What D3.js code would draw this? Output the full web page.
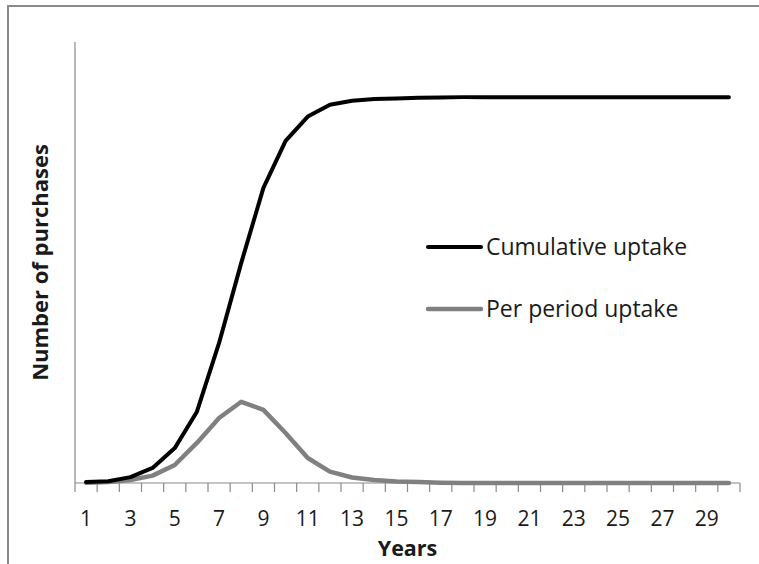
<!DOCTYPE html>
<html>
<head>
<meta charset="utf-8">
<script src="https://cdn.jsdelivr.net/npm/d3@7"></script>
<style>
  html, body { margin: 0; padding: 0; background: #fff; }
  svg { display: block; }
  text { font-family: "Open Sans", "Noto Sans", sans-serif; fill: #1a1a1a; }
</style>
</head>
<body>
<svg id="chart" width="759" height="564"></svg>
<script>
// ---- Data ----
const years = d3.range(1, 31);
const cumulativeUptake = [3, 5, 16, 41, 95, 194, 381, 599, 803, 931, 997, 1029, 1040, 1045, 1046, 1048, 1049, 1050, 1050, 1050, 1050, 1050, 1050, 1050, 1050, 1050, 1050, 1050, 1050, 1050];
const perPeriodUptake = [1, 3, 8, 20, 49, 109, 177, 221, 199, 136, 68, 31, 15, 8, 4, 3, 1, 0, 0, 0, 0, 0, 0, 0, 0, 0, 0, 0, 0, 0];
const tickYears = [1, 3, 5, 7, 9, 11, 13, 15, 17, 19, 21, 23, 25, 27, 29];
const seriesNames = ["Cumulative uptake", "Per period uptake"];
const seriesColors = ["#000000", "#808080"];
const yTitle = "Number of purchases";
const xTitle = "Years";

// ---- Layout ----
const svg = d3.select("#chart");
const plot = { left: 75, right: 740, top: 42, bottom: 483 };

// chart-area border (only top & left visible in the crop)
svg.append("rect")
  .attr("x", 8).attr("y", 6)
  .attr("width", 800).attr("height", 620)
  .attr("fill", "none")
  .attr("stroke", "#8a8a8a")
  .attr("stroke-width", 2);

const x = d3.scaleBand()
  .domain(years)
  .range([plot.left, plot.right])
  .paddingInner(0).paddingOuter(0);

const y = d3.scaleLinear()
  .domain([0, 1200])
  .range([plot.bottom, plot.top]);

const cx = d => x(d) + x.bandwidth() / 2;

// y axis line
svg.append("line")
  .attr("x1", plot.left).attr("x2", plot.left)
  .attr("y1", plot.top).attr("y2", plot.bottom)
  .attr("stroke", "#8a8a8a").attr("stroke-width", 1.2);

// x axis line
svg.append("line")
  .attr("x1", plot.left).attr("x2", plot.right)
  .attr("y1", plot.bottom).attr("y2", plot.bottom)
  .attr("stroke", "#8a8a8a").attr("stroke-width", 1.2);

// tick marks between categories
const boundaries = years.map(d => x(d)).concat([plot.right]);
svg.append("g").selectAll("line")
  .data(boundaries)
  .join("line")
  .attr("x1", d => d).attr("x2", d => d)
  .attr("y1", plot.bottom).attr("y2", plot.bottom + 9)
  .attr("stroke", "#8a8a8a").attr("stroke-width", 1.2);

// tick labels
svg.append("g").selectAll("text")
  .data(tickYears)
  .join("text")
  .attr("x", d => cx(d))
  .attr("y", 526)
  .attr("text-anchor", "middle")
  .attr("font-size", 21)
  .text(d => d);

// axis titles
svg.append("text")
  .attr("x", (plot.left + plot.right) / 2)
  .attr("y", 556)
  .attr("text-anchor", "middle")
  .attr("font-size", 21.5)
  .attr("font-weight", "bold")
  .text(xTitle);

svg.append("text")
  .attr("transform", `translate(48, ${(plot.top + plot.bottom) / 2}) rotate(-90)`)
  .attr("text-anchor", "middle")
  .attr("font-size", 22)
  .attr("font-weight", "bold")
  .text(yTitle);

// lines
const line = d3.line()
  .x((d, i) => cx(years[i]))
  .y(d => y(d))
  .curve(d3.curveLinear);

svg.append("path")
  .datum(perPeriodUptake)
  .attr("d", line)
  .attr("fill", "none")
  .attr("stroke", seriesColors[1])
  .attr("stroke-width", 4.5)
  .attr("stroke-linejoin", "round")
  .attr("stroke-linecap", "round");

svg.append("path")
  .datum(cumulativeUptake)
  .attr("d", line)
  .attr("fill", "none")
  .attr("stroke", seriesColors[0])
  .attr("stroke-width", 4)
  .attr("stroke-linejoin", "round")
  .attr("stroke-linecap", "round");

// legend
const legendY = [247, 309];
const lg = svg.append("g").selectAll("g")
  .data(seriesNames)
  .join("g")
  .attr("transform", (d, i) => `translate(428, ${legendY[i]})`);
lg.append("line")
  .attr("x1", 0).attr("x2", 53)
  .attr("y1", 0).attr("y2", 0)
  .attr("stroke", (d, i) => seriesColors[i])
  .attr("stroke-width", (d, i) => i === 0 ? 4 : 4.5)
  .attr("stroke-linecap", "round");
lg.append("text")
  .attr("x", 58)
  .attr("y", 8)
  .attr("font-size", 23)
  .text(d => d);
</script>
</body>
</html>
